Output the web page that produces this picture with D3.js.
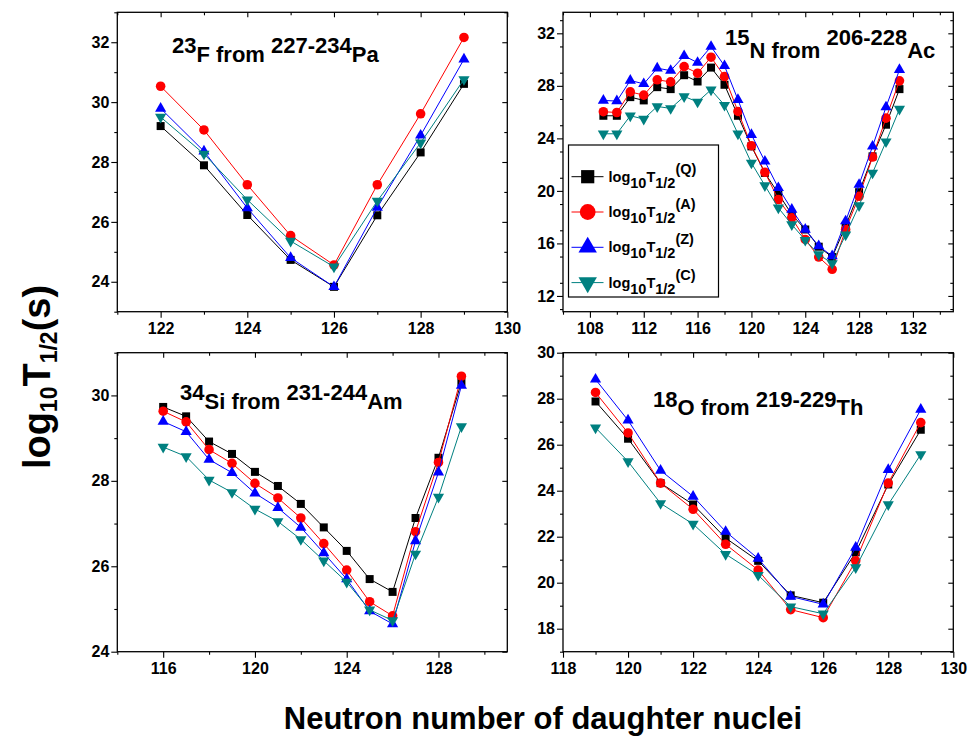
<!DOCTYPE html>
<html>
<head>
<meta charset="utf-8">
<script src="https://cdn.jsdelivr.net/npm/d3@7"></script>
<style>
  body { margin: 0; background: #fff; }
  svg text { font-family: "Liberation Sans", Arial, sans-serif; font-weight: bold; fill: #000; }
</style>
</head>
<body>
<div id="chart"></div>
<script>
// ---- data ----
// 23F from 227-234Pa
const fN = [122, 123, 124, 125, 126, 127, 128, 129];
const fQ = [29.20, 27.89, 26.23, 24.73, 23.83, 26.22, 28.32, 30.61];
const fA = [30.53, 29.07, 27.24, 25.54, 24.56, 27.24, 29.61, 32.16];
const fZ = [29.79, 28.36, 26.46, 24.80, 23.83, 26.48, 28.89, 31.43];
const fC = [29.50, 28.27, 26.74, 25.36, 24.50, 26.70, 28.64, 30.76];

// 15N from 206-228Ac
const nN = [109, 110, 111, 112, 113, 114, 115, 116, 117, 118, 119, 120, 121, 122, 123, 124, 125, 126, 127, 128, 129, 130, 131];
const nQ = [25.72, 25.72, 27.14, 26.89, 27.90, 27.75, 28.81, 28.33, 29.39, 28.08, 25.72, 23.39, 21.37, 19.80, 18.20, 17.06, 15.75, 14.96, 17.32, 19.90, 22.63, 25.04, 27.75];
const nA = [26.03, 25.97, 27.54, 27.29, 28.46, 28.30, 29.47, 28.96, 30.18, 28.71, 26.05, 23.44, 21.42, 19.34, 17.95, 16.30, 14.96, 14.03, 17.06, 19.59, 22.58, 25.54, 28.38];
const nZ = [26.89, 26.84, 28.41, 28.15, 29.34, 29.16, 30.28, 29.77, 30.99, 29.52, 26.94, 24.28, 22.25, 20.23, 18.58, 17.06, 15.80, 15.04, 17.70, 20.48, 23.39, 26.38, 29.22];
const nC = [24.35, 24.35, 25.72, 25.47, 26.43, 26.28, 27.19, 26.78, 27.70, 26.53, 24.35, 22.13, 20.41, 18.71, 17.44, 16.25, 15.16, 14.48, 16.66, 18.89, 21.37, 23.75, 26.23];

// 34Si from 231-244Am
const siN = [116, 117, 118, 119, 120, 121, 122, 123, 124, 125, 126, 127, 128, 129];
const siQ = [29.73, 29.51, 28.92, 28.63, 28.21, 27.88, 27.46, 26.91, 26.36, 25.70, 25.40, 27.13, 28.54, 30.31];
const siA = [29.63, 29.38, 28.73, 28.41, 27.94, 27.60, 27.13, 26.53, 25.91, 25.17, 24.84, 26.81, 28.43, 30.45];
const siZ = [29.39, 29.15, 28.50, 28.19, 27.71, 27.37, 26.91, 26.31, 25.70, 24.95, 24.65, 26.59, 28.20, 30.23];
const siC = [28.79, 28.57, 28.02, 27.73, 27.34, 27.05, 26.63, 26.13, 25.63, 24.98, 24.73, 26.29, 27.62, 29.27];

// 18O from 219-229Th
const oN = [119, 120, 121, 122, 123, 124, 125, 126, 127, 128, 129];
const oQ = [27.88, 26.26, 24.33, 23.40, 21.94, 20.95, 19.45, 19.13, 21.32, 24.27, 26.65];
const oA = [28.27, 26.51, 24.33, 23.19, 21.67, 20.55, 18.83, 18.48, 20.95, 24.33, 26.96];
const oZ = [28.84, 27.06, 24.88, 23.75, 22.22, 21.05, 19.40, 19.06, 21.53, 24.91, 27.53];
const oC = [26.74, 25.27, 23.45, 22.55, 21.24, 20.33, 18.96, 18.65, 20.66, 23.40, 25.58];

// tick labels
const fXTicks = [122, 124, 126, 128, 130];
const fYTicks = [24, 26, 28, 30, 32];
const nXTicks = [108, 112, 116, 120, 124, 128, 132];
const nYTicks = [12, 16, 20, 24, 28, 32];
const siXTicks = [116, 120, 124, 128];
const siYTicks = [24, 26, 28, 30];
const oXTicks = [118, 120, 122, 124, 126, 128, 130];
const oYTicks = [18, 20, 22, 24, 26, 28, 30];

const seriesKeys = ["Q", "A", "Z", "C"];
const colors = { Q: "#000000", A: "#ff0000", Z: "#0000ff", C: "#008080" };

const W = 971, H = 737;
const svg = d3.select("#chart").append("svg").attr("width", W).attr("height", H);

function symbolPath(key, scale) {
  const s = scale || 1;
  if (key === "Q") return d3.symbol(d3.symbolSquare, 64 * s * s)();
  if (key === "A") return d3.symbol(d3.symbolCircle, 72 * s * s)();
  return d3.symbol(d3.symbolTriangle, 54 * s * s)();
}

// text with sub/superscripts: parts = [text, baseline shift, size]
function richText(g, x, y, parts, size, anchor) {
  const t = g.append("text").attr("x", x).attr("y", y)
    .attr("text-anchor", anchor || "start")
    .style("font-size", size + "px");
  let prev = 0;
  parts.forEach(([txt, shift, sz]) => {
    t.append("tspan").attr("dy", shift - prev)
      .style("font-size", (sz || size) + "px").text(txt);
    prev = shift;
  });
  return t;
}

function drawPanel(p) {
  const x = d3.scaleLinear().domain(p.xDomain).range([p.left, p.right]);
  const y = d3.scaleLinear().domain(p.yDomain).range([p.bottom, p.top]);
  const g = svg.append("g");

  const xMinor = d3.range(Math.ceil(p.xDomain[0]), p.xDomain[1] + 0.01, p.xStep / 2)
    .filter(v => !p.xTicks.includes(v));
  const yMinor = d3.range(Math.ceil(p.yDomain[0]), p.yDomain[1] + 0.01, p.yStep / 2)
    .filter(v => !p.yTicks.includes(v) && v >= p.yDomain[0]);

  const strip = sel => sel.select(".domain").remove();
  const style = sel => {
    sel.selectAll("line").attr("stroke", "#000").attr("stroke-width", 1.1);
    sel.selectAll("text").style("font-size", "16px").attr("font-family", null);
  };

  g.append("g").attr("transform", `translate(0,${p.bottom})`)
    .call(d3.axisBottom(x).tickValues(xMinor).tickSize(3).tickFormat(""))
    .call(strip).call(style);
  g.append("g").attr("transform", `translate(0,${p.bottom})`)
    .call(d3.axisBottom(x).tickValues(p.xTicks).tickSize(6).tickPadding(5).tickFormat(d3.format("d")))
    .call(strip).call(style);
  g.append("g").attr("transform", `translate(${p.left},0)`)
    .call(d3.axisLeft(y).tickValues(yMinor).tickSize(3).tickFormat(""))
    .call(strip).call(style);
  g.append("g").attr("transform", `translate(${p.left},0)`)
    .call(d3.axisLeft(y).tickValues(p.yTicks).tickSize(6).tickPadding(2).tickFormat(d3.format("d")))
    .call(strip).call(style);
  // mirrored inward ticks
  g.append("g").attr("transform", `translate(0,${p.top})`)
    .call(d3.axisTop(x).tickValues(xMinor).tickSize(-3).tickFormat(""))
    .call(strip).call(style);
  g.append("g").attr("transform", `translate(0,${p.top})`)
    .call(d3.axisTop(x).tickValues(p.xTicks).tickSize(-5).tickFormat(""))
    .call(strip).call(style);
  g.append("g").attr("transform", `translate(${p.right},0)`)
    .call(d3.axisRight(y).tickValues(yMinor).tickSize(-3).tickFormat(""))
    .call(strip).call(style);
  g.append("g").attr("transform", `translate(${p.right},0)`)
    .call(d3.axisRight(y).tickValues(p.yTicks).tickSize(-5).tickFormat(""))
    .call(strip).call(style);

  g.append("rect")
    .attr("x", p.left).attr("y", p.top)
    .attr("width", p.right - p.left).attr("height", p.bottom - p.top)
    .attr("fill", "none").attr("stroke", "#000").attr("stroke-width", 1.3);

  seriesKeys.forEach(k => {
    const pts = p.n.map((n, i) => ({ n, v: p.vals[k][i] }));
    g.append("path").datum(pts)
      .attr("fill", "none").attr("stroke", colors[k]).attr("stroke-width", 1)
      .attr("d", d3.line().x(d => x(d.n)).y(d => y(d.v)));
    g.selectAll(null).data(pts).enter().append("path")
      .attr("d", symbolPath(k))
      .attr("transform", d => `translate(${x(d.n)},${y(d.v)})` + (k === "C" ? " rotate(180)" : ""))
      .attr("fill", colors[k]);
  });

  richText(g, p.label.x, p.label.y, p.label.parts, 22);
}

drawPanel({
  left: 117.3, right: 507.3, top: 12.3, bottom: 311.7,
  xDomain: [121, 130], yDomain: [23, 33], xStep: 2, yStep: 2,
  xTicks: fXTicks, yTicks: fYTicks,
  n: fN, vals: { Q: fQ, A: fA, Z: fZ, C: fC },
  label: { x: 172, y: 61.5, parts: [["23", -9], ["F from  ", 0], ["227-234", -9], ["Pa", 0]] }
});

drawPanel({
  left: 563, right: 953.3, top: 12.3, bottom: 311.7,
  xDomain: [106, 135], yDomain: [10.8, 33.6], xStep: 4, yStep: 4,
  xTicks: nXTicks, yTicks: nYTicks,
  n: nN, vals: { Q: nQ, A: nA, Z: nZ, C: nC },
  label: { x: 725, y: 58.3, parts: [["15", -13], ["N from ", 0], ["206-228", -13], ["Ac", 0]] }
});

drawPanel({
  left: 117.3, right: 507.3, top: 352.7, bottom: 651.7,
  xDomain: [114, 131], yDomain: [24, 31], xStep: 4, yStep: 2,
  xTicks: siXTicks, yTicks: siYTicks,
  n: siN, vals: { Q: siQ, A: siA, Z: siZ, C: siC },
  label: { x: 180, y: 409, parts: [["34", -9], ["Si from ", 0], ["231-244", -9], ["Am", 0]] }
});

drawPanel({
  left: 563, right: 953.3, top: 352.7, bottom: 651.7,
  xDomain: [118, 130], yDomain: [17, 30], xStep: 2, yStep: 2,
  xTicks: oXTicks, yTicks: oYTicks,
  n: oN, vals: { Q: oQ, A: oA, Z: oZ, C: oC },
  label: { x: 653, y: 415, parts: [["18", -8], ["O from ", 0], ["219-229", -8], ["Th", 0]] }
});

// legend inside the top-right panel
const leg = svg.append("g");
leg.append("rect").attr("x", 568.5).attr("y", 145).attr("width", 150).attr("height", 152)
  .attr("fill", "#fff").attr("stroke", "#000").attr("stroke-width", 1.2);
seriesKeys.forEach((k, i) => {
  const cy = 176.7 + i * 35.3;
  leg.append("line").attr("x1", 571.5).attr("x2", 603.5).attr("y1", cy).attr("y2", cy)
    .attr("stroke", colors[k]).attr("stroke-width", 1);
  leg.append("path").attr("d", symbolPath(k, 1.65))
    .attr("transform", `translate(587.7,${cy})` + (k === "C" ? " rotate(180)" : ""))
    .attr("fill", colors[k]);
  richText(leg, 608.5, cy + 5, [["log", 0], ["10", 6], ["T", 0], ["1/2", 6], ["(" + k + ")", -8]], 14.5);
});

// axis titles
richText(svg, 543, 729, [["Neutron number of daughter nuclei", 0]], 31, "middle");
const yt = svg.append("g").attr("transform", "translate(50,377) rotate(-90)");
richText(yt, 0, 0, [["log", 0, 38], ["10", 7, 23], ["T", 0, 38], ["1/2", 7, 23], ["(s)", 0, 38]], 38, "middle");
</script>
</body>
</html>
